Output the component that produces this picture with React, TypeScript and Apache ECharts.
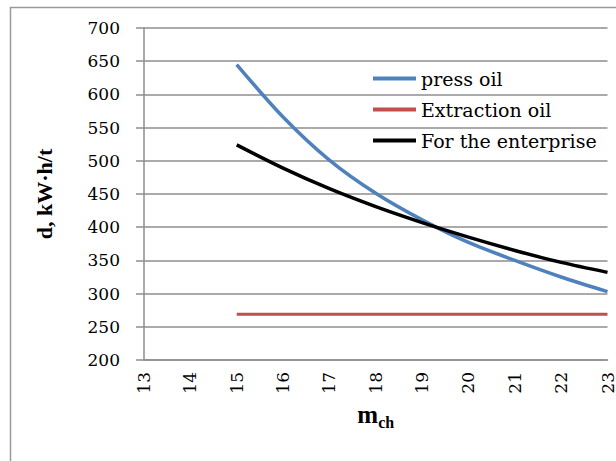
import React, { useEffect, useRef } from "react";
import * as echarts from "echarts";

const mValues = [15, 16, 17, 18, 19, 20, 21, 22, 23];
const pressOil = [645, 566, 501, 451, 411, 377, 350, 325, 303];
const extractionOil = [269, 269, 269, 269, 269, 269, 269, 269, 269];
const enterprise = [524, 489, 458, 431, 407, 385, 365, 347, 332];
const seriesNames = ["press oil", "Extraction oil", "For the enterprise"];

const pair = (ys: number[]) => mValues.map((m, i) => [m, ys[i]]);

export default function App() {
  const ref = useRef<HTMLDivElement>(null);
  useEffect(() => {
    if (!ref.current) return;
    const chart = echarts.init(ref.current, undefined, { renderer: "svg" });
    const font = "DejaVu Serif";
    const gridColor = "#8e8e8e";
    chart.setOption({
      animation: false,
      backgroundColor: "#ffffff",
      graphic: [
        {
          type: "rect",
          shape: { x: 10.5, y: 7.5, width: 640, height: 480 },
          style: { fill: "none", stroke: "#9a9a9a", lineWidth: 1.5 },
          silent: true,
        },
      ],
      grid: { left: 144, right: 5, top: 28, bottom: 101 },
      legend: {
        orient: "vertical",
        left: 373,
        top: 69,
        padding: 0,
        itemWidth: 43,
        itemHeight: 4,
        itemGap: 12,
        icon: "rect",
        textStyle: { fontFamily: font, fontSize: 19, color: "#000" },
        data: seriesNames,
      },
      xAxis: {
        type: "value",
        min: 13,
        max: 23,
        interval: 1,
        name: "{a|m}{b|ch}",
        nameLocation: "middle",
        nameGap: 40,
        nameTextStyle: {
          rich: {
            a: { fontFamily: "Liberation Serif", fontWeight: "bold", fontSize: 25, color: "#000", verticalAlign: "bottom" },
            b: { fontFamily: "Liberation Serif", fontWeight: "bold", fontSize: 16, color: "#000", verticalAlign: "bottom", padding: [0, 0, -4, 0] },
          },
        },
        axisLine: { show: true, lineStyle: { color: gridColor, width: 1.5 } },
        axisTick: { show: false },
        splitLine: { show: false },
        axisLabel: { rotate: 90, margin: 12, fontFamily: font, fontSize: 17, color: "#000" },
      },
      yAxis: {
        type: "value",
        min: 200,
        max: 700,
        interval: 50,
        name: "d, kW·h/t",
        nameLocation: "middle",
        nameRotate: 90,
        nameGap: 89,
        nameTextStyle: { fontFamily: "Liberation Serif", fontWeight: "bold", fontSize: 22, color: "#000" },
        axisLine: { show: true, lineStyle: { color: gridColor, width: 1.5 } },
        axisTick: { show: true, inside: false, length: 8, lineStyle: { color: gridColor, width: 1.5 } },
        splitLine: { show: true, lineStyle: { color: gridColor, width: 1.5 } },
        axisLabel: { margin: 24, fontFamily: font, fontSize: 17, color: "#000" },
      },
      series: [
        {
          name: seriesNames[0],
          type: "line",
          data: pair(pressOil),
          smooth: 0.3,
          showSymbol: false,
          symbol: "none",
          color: "#4f81bd",
          lineStyle: { color: "#4f81bd", width: 3.5 },
        },
        {
          name: seriesNames[1],
          type: "line",
          data: pair(extractionOil),
          showSymbol: false,
          symbol: "none",
          color: "#c0504d",
          lineStyle: { color: "#c0504d", width: 3 },
        },
        {
          name: seriesNames[2],
          type: "line",
          data: pair(enterprise),
          smooth: 0.3,
          showSymbol: false,
          symbol: "none",
          color: "#000000",
          lineStyle: { color: "#000000", width: 3.5 },
        },
      ],
    });
    return () => chart.dispose();
  }, []);
  return <div ref={ref} style={{ width: 616, height: 461, position: "absolute", left: 0, top: 0 }} />;
}
